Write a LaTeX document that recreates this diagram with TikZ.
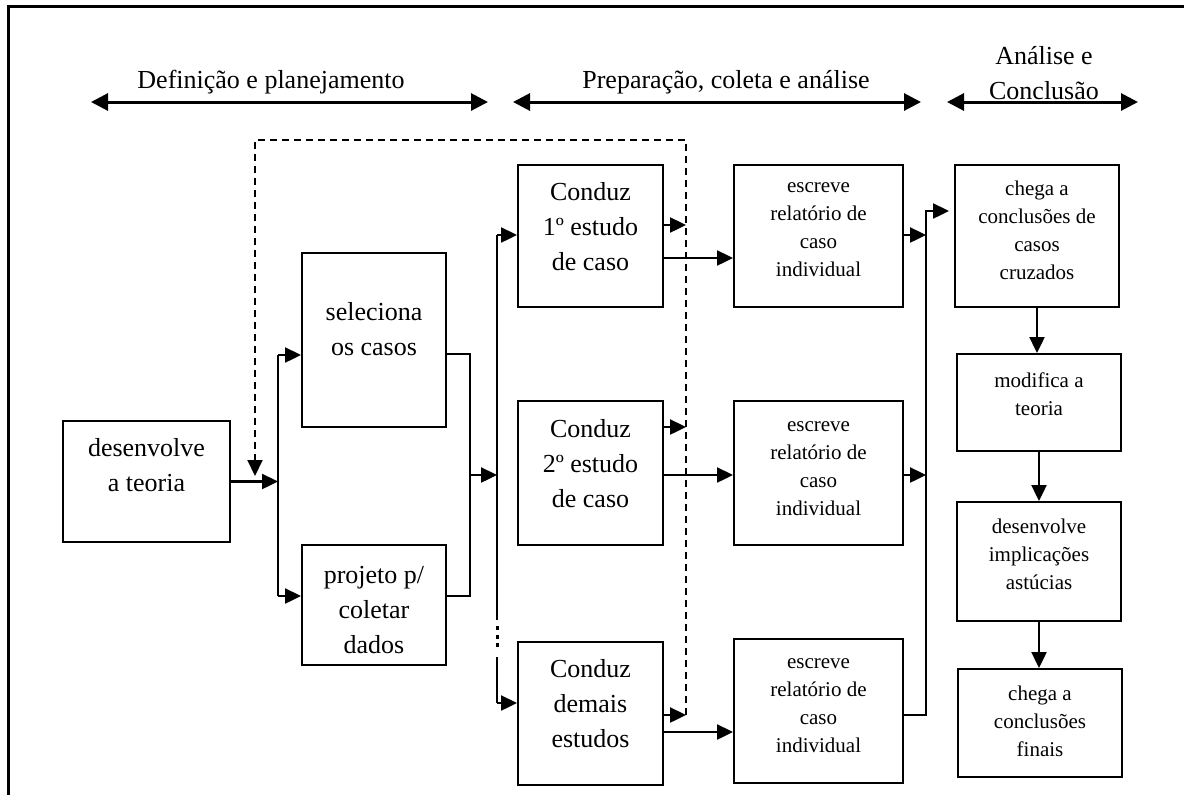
\documentclass[tikz,border=0pt]{standalone}
\usepackage{fontspec}
\setmainfont{Liberation Serif}
\usetikzlibrary{arrows.meta}
\begin{document}
\begin{tikzpicture}[x=0.5pt,y=-0.5pt,
 box/.style={draw, line width=1pt, inner sep=0pt},
 bigtxt/.style={align=center, font=\fontsize{13}{17.5}\selectfont, inner sep=0pt},
 smalltxt/.style={align=center, font=\fontsize{10.5}{14}\selectfont, inner sep=0pt},
 conn/.style={line width=1.2pt},
 arr/.style={conn, -{Triangle[length=8pt,width=7.5pt]}},
 hdr/.style={line width=1.5pt, {Triangle[length=8.5pt,width=8.5pt]}-{Triangle[length=8.5pt,width=8.5pt]}},
 fb/.style={line width=1pt, dash pattern=on 3.5pt off 2.5pt}
]
\useasboundingbox (0,0) rectangle (1184,794);
% frame
\draw[line width=1.5pt] (8,800) -- (8,6) -- (1190,6);

% header
\coordinate (h1a) at (91,102); \coordinate (h1b) at (488,102);
\coordinate (h2a) at (513,102); \coordinate (h2b) at (921,102);
\coordinate (h3a) at (947,102); \coordinate (h3b) at (1138,102);
\draw[hdr] (h1a) -- (h1b);
\draw[hdr] (h2a) -- (h2b);
\draw[hdr] (h3a) -- (h3b);
\node[bigtxt] (t1) at (271,82) {Definição e planejamento};
\node[bigtxt] (t2) at (726,82) {Preparação, coleta e análise};
\node[bigtxt] (t3) at (1044,73) {Análise e\\Conclusão};

% boxes
\node[box, minimum width=83.5pt, minimum height=60.5pt] (dev) at (146.5,481.5) {};
\node[box, minimum width=72pt, minimum height=87pt] (sel) at (374,340) {};
\node[box, minimum width=72pt, minimum height=60pt] (proj) at (374,605) {};
\node[box, minimum width=72.5pt, minimum height=71pt] (c1) at (590.5,236) {};
\node[box, minimum width=72.5pt, minimum height=72pt] (c2) at (590.5,473) {};
\node[box, minimum width=72.5pt, minimum height=71.5pt] (c3) at (590.5,713.5) {};
\node[box, minimum width=84.5pt, minimum height=71pt] (e1) at (818.5,236) {};
\node[box, minimum width=84.5pt, minimum height=72pt] (e2) at (818.5,473) {};
\node[box, minimum width=84.5pt, minimum height=72pt] (e3) at (818.5,711) {};
\node[box, minimum width=82pt, minimum height=71pt] (ch1) at (1037,236) {};
\node[box, minimum width=82pt, minimum height=48.5pt] (mod) at (1039,402.5) {};
\node[box, minimum width=82pt, minimum height=59.5pt] (imp) at (1039,561.5) {};
\node[box, minimum width=82pt, minimum height=54pt] (ch2) at (1040,723) {};

% texts
\node[bigtxt] (devt) at (146.5,465.5) {desenvolve\\a teoria};
\node[bigtxt] (selt) at (374,329.5) {seleciona\\os casos};
\node[bigtxt] (projt) at (374,610) {projeto p/\\coletar\\dados};
\node[bigtxt] (c1t) at (590.5,227) {Conduz\\1º estudo\\de caso};
\node[bigtxt] (c2t) at (590.5,463.5) {Conduz\\2º estudo\\de caso};
\node[bigtxt] (c3t) at (590.5,704) {Conduz\\demais\\estudos};
\node[smalltxt] (e1t) at (818.5,230) {escreve\\relatório de\\caso\\individual};
\node[smalltxt] (e2t) at (818.5,468.5) {escreve\\relatório de\\caso\\individual};
\node[smalltxt] (e3t) at (818.5,705.5) {escreve\\relatório de\\caso\\individual};
\node[smalltxt] (ch1t) at (1037,230) {chega a\\conclusões de\\casos\\cruzados};
\node[smalltxt] (modt) at (1039,394) {modifica a\\teoria};
\node[smalltxt] (impt) at (1039,554) {desenvolve\\implicações\\astúcias};
\node[smalltxt] (ch2t) at (1040,721.5) {chega a\\conclusões\\finais};

% junction coordinates
\coordinate (jL1) at (278,355);
\coordinate (jL2) at (278,596);
\coordinate (jM1) at (470,354);
\coordinate (jM2) at (470,596);
\coordinate (jM) at (470,475);
\coordinate (v1) at (497,235);
\coordinate (v2) at (497,620);
\coordinate (v3) at (497,657);
\coordinate (v4) at (497,703);
\coordinate (r1) at (700,258);
\coordinate (r2) at (700,475);
\coordinate (r3) at (700,732);
\coordinate (q1) at (926,235);
\coordinate (q2) at (926,475);
\coordinate (jR3) at (926,715);
\coordinate (jR) at (926,211);
\coordinate (d3) at (686,715);
\coordinate (dtr) at (686,140);
\coordinate (dtl) at (255,140);
\coordinate (dend) at (255,476);
\coordinate (s1) at (686,225);
\coordinate (s2) at (686,427);
\coordinate (s3) at (686,715);

% left part
\draw[arr] (dev.east) -- (dev.east -| jL1);
\draw[conn] (jL1) -- (jL2);
\draw[arr] (jL1) -- (jL1 -| sel.west);
\draw[arr] (jL2) -- (jL2 -| proj.west);
\draw[conn] (jM1 -| sel.east) -- (jM1) -- (jM2) -- (jM2 -| proj.east);
\draw[arr] (jM) -- (jM -| v1);
\draw[conn] (v1) -- (v2);
\draw[conn] (v3) -- (v4);
\foreach \yy in {628,637,645} \fill (495.5,\yy-2) rectangle (498.5,\yy+2);
\draw[arr] (v1) -- (v1 -| c1.west);
\draw[arr] (v4) -- (v4 -| c3.west);

% feedback dashed
\draw[fb, -{Triangle[length=8pt,width=7.5pt]}] (d3) -- (dtr) -- (dtl) -- (dend);
\draw[arr] (s1 -| c1.east) -- (s1);
\draw[arr] (s2 -| c2.east) -- (s2);
\draw[arr] (s3 -| c3.east) -- (s3);

% conduz -> escreve
\draw[arr] (r1 -| c1.east) -- (r1 -| e1.west);
\draw[arr] (r2 -| c2.east) -- (r2 -| e2.west);
\draw[arr] (r3 -| c3.east) -- (r3 -| e3.west);

% escreve -> right
\draw[arr] (q1 -| e1.east) -- (q1);
\draw[arr] (q2 -| e2.east) -- (q2);
\draw[arr, shorten >=2.5pt] (jR3 -| e3.east) -- (jR3) -- (jR) -- (jR -| ch1.west);

% right column
\draw[arr] (ch1.south) -- (ch1.south |- mod.north);
\draw[arr] (mod.south) -- (mod.south |- imp.north);
\draw[arr] (imp.south) -- (imp.south |- ch2.north);
\end{tikzpicture}
\end{document}
